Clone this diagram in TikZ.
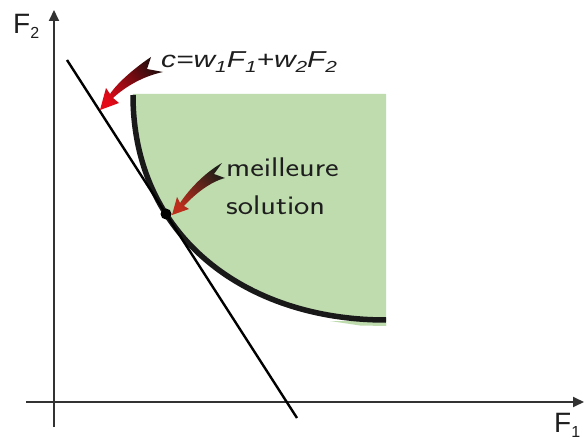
\documentclass[tikz,border=0pt]{standalone}
\usepackage{fontspec}
\usepackage{graphicx}
\usetikzlibrary{arrows.meta}
\newfontfamily\arialfont{Liberation Sans}
\newcommand{\lowsub}[3]{{\fontsize{#1}{#1}\selectfont\raisebox{-#2}{#3}}}
\definecolor{regiongreen}{RGB}{191,220,174}
\definecolor{curvecol}{RGB}{25,25,25}
\definecolor{axiscol}{RGB}{50,50,50}
\definecolor{txtcol}{RGB}{30,30,30}
\definecolor{headred}{RGB}{228,10,24}
\definecolor{headredtwo}{RGB}{190,45,28}
\definecolor{taildark}{RGB}{35,12,12}
\definecolor{taildarktwo}{RGB}{30,30,25}
\begin{document}
\begin{tikzpicture}[x=1bp,y=-1bp,
  axisline/.style={draw=axiscol,line width=1.8bp},
  tangentline/.style={draw=black,line width=2.4bp},
  frontcurve/.style={draw=curvecol,line width=5.5bp},
  axlabel/.style={font=\arialfont\fontsize{28bp}{28bp}\selectfont,text=txtcol,inner sep=0pt,anchor=base west},
  eqlabel/.style={font=\arialfont\itshape\fontsize{23bp}{23bp}\selectfont,text=txtcol,inner sep=0pt,anchor=base west},
  sollabel/.style={font=\sffamily\fontsize{27bp}{27bp}\selectfont,text=txtcol,inner sep=0pt,anchor=base west},
  bestdot/.style={circle,fill=black,inner sep=0pt,minimum size=11bp}
]
\useasboundingbox (0,0) rectangle (584,439);
\fill[white] (0,0) rectangle (584,439);

% feasible region
\fill[regiongreen] (133,94) .. controls (133,237) and (246,320) .. (386,320) -- (386,326) -- (386,94) -- cycle;
\fill[regiongreen] (330,321) -- (386,321) -- (386,326) -- (360,325.5) -- cycle;
\draw[frontcurve] (133,95) .. controls (133,237) and (246,320) .. (386,320);

% axes
\coordinate (yb) at (54,427);
\coordinate (yt) at (54,10);
\coordinate (xl) at (26,402);
\coordinate (xr) at (584,402);
\draw[axisline,-{Triangle[length=11bp,width=10bp]}] (yb) -- (yt);
\draw[axisline,-{Triangle[length=11bp,width=10bp]}] (xl) -- (xr);
\node[axlabel] (f2) at (13,34) {F\lowsub{16bp}{5bp}{2}};
\node[axlabel] (f1) at (554,432) {F\lowsub{16bp}{5bp}{1}};

% tangent line
\coordinate (ttop) at (67,60);
\coordinate (tbot) at (297,418);
\draw[tangentline] (ttop) -- (tbot);
\node[bestdot] (best) at (166,214) {};

% labels
\node[eqlabel] (eq) at (161,68) {\scalebox{1.3}[1]{c=w\lowsub{16bp}{5bp}{1}F\lowsub{16bp}{5bp}{1}+w\lowsub{16bp}{5bp}{2}F\lowsub{16bp}{5bp}{2}}};
\node[sollabel] (meil) at (226,177) {\scalebox{1.2}[1]{meilleure}};
\node[sollabel] (sol) at (226,215) {\scalebox{1.2}[1]{solution}};

% curved arrows
\shade[top color=taildark,bottom color=headred,shading angle=-52]
  (151,57) .. controls (136,67) and (118,82) .. (110,94) -- (106,88) -- (100,110) -- (119,103) -- (113,98)
  .. controls (126,86) and (144,76) .. (163,72) -- (147,69) -- cycle;
\shade[top color=taildarktwo,bottom color=headredtwo,shading angle=-47]
  (222,163) .. controls (206,172) and (190,188) .. (180,203) -- (177,197) -- (172,215) -- (189,209) -- (184,206)
  .. controls (195,194) and (210,182) .. (225,178) -- (214,174) -- cycle;
\end{tikzpicture}
\end{document}
